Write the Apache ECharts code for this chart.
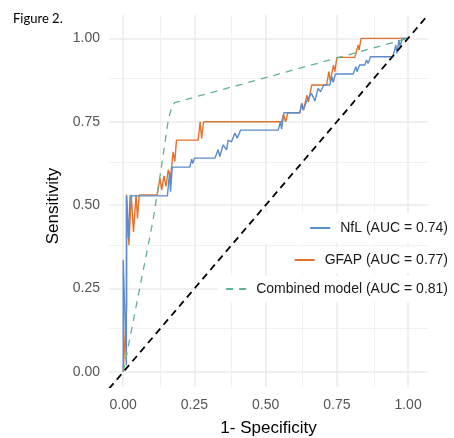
<!DOCTYPE html>
<html><head><meta charset="utf-8">
<script src="https://cdn.jsdelivr.net/npm/echarts@6/dist/echarts.min.js"></script>
<style>html,body{margin:0;padding:0;background:#fff}#c{width:454px;height:438px}</style>
</head><body><div id="c"></div>
<script>
// ROC curve data (1 - specificity, sensitivity)
const nflFpr = [0,0,0.011,0.011,0.018,0.024,0.155,0.163,0.166,0.172,0.234,0.240,0.244,0.250,0.322,0.333,0.339,0.351,0.363,0.368,0.380,0.392,0.400,0.412,0.544,0.552,0.556,0.564,0.620,0.626,0.632,0.643,0.649,0.661,0.673,0.684,0.693,0.704,0.725,0.733,0.737,0.745,0.807,0.817,0.821,0.830,0.848,0.854,0.860,0.868,0.947,0.957,0.961,0.968,0.972,0.980,1.0];
const nflTpr = [0,0.336,0.02,0.528,0.40,0.528,0.528,0.60,0.54,0.614,0.614,0.638,0.625,0.641,0.641,0.666,0.646,0.681,0.666,0.695,0.690,0.716,0.701,0.725,0.725,0.750,0.728,0.777,0.777,0.805,0.785,0.810,0.805,0.835,0.812,0.850,0.840,0.860,0.860,0.885,0.868,0.893,0.893,0.915,0.900,0.920,0.920,0.935,0.925,0.945,0.945,0.980,0.955,0.995,0.975,1.0,1.0];
const gfapFpr = [0,0.006,0.012,0.012,0.020,0.028,0.036,0.045,0.050,0.056,0.119,0.129,0.135,0.143,0.150,0.158,0.166,0.175,0.181,0.187,0.263,0.270,0.275,0.282,0.556,0.563,0.570,0.578,0.620,0.628,0.633,0.645,0.650,0.662,0.714,0.722,0.727,0.738,0.743,0.750,0.813,0.825,0.828,0.835,1.0];
const gfapTpr = [0,0.10,0.196,0.531,0.38,0.531,0.42,0.531,0.46,0.531,0.531,0.581,0.546,0.588,0.556,0.606,0.581,0.660,0.631,0.695,0.695,0.750,0.700,0.750,0.750,0.772,0.750,0.777,0.777,0.805,0.785,0.830,0.810,0.860,0.860,0.900,0.870,0.920,0.900,0.943,0.943,0.980,0.965,1.0,1.0];
const combFpr = [0,0.105,0.135,0.158,0.170,0.180,1.0];
const combTpr = [0,0.456,0.620,0.755,0.793,0.807,1.0];

const seriesNames = ['NfL (AUC = 0.74)','GFAP (AUC = 0.77)','Combined model (AUC = 0.81)'];
const seriesColors = ['#5B8CCB','#E2722D','#5FB48F'];

const majorTicks = [0,0.25,0.5,0.75,1];
const minorTicks = [0.125,0.375,0.625,0.875];
const xRange = [-0.05,1.07];
const yRange = [-0.045,1.07];

const zip = (a,b) => a.map((v,i)=>[v,b[i]]);
const font = 'Liberation Sans, Arial, sans-serif';
const majorStyle = {color:'#EBEBEB', width:1.5, type:'solid'};
const minorStyle = {color:'#EFEFEF', width:0.9, type:'solid'};

const gridLines = [].concat(
  minorTicks.map(v=>({xAxis:v, lineStyle:minorStyle})),
  minorTicks.map(v=>({yAxis:v, lineStyle:minorStyle})),
  majorTicks.map(v=>({xAxis:v, lineStyle:majorStyle})),
  majorTicks.map(v=>({yAxis:v, lineStyle:majorStyle}))
);

const fmt = v => v.toFixed(2);

const chart = echarts.init(document.getElementById('c'), null, {renderer:'canvas'});
const legendBase = {
  orient:'horizontal', itemWidth:20, itemHeight:14, backgroundColor:'#fff', z:100,
  icon:'inherit', itemStyle:{opacity:0, borderWidth:0},
  textStyle:{fontFamily:font, fontSize:14, color:'#1a1a1a', padding:[0,0,0,5]},
  selectedMode:false
};
chart.setOption({
  animation:false,
  backgroundColor:'#fff',
  title:{text:'Figure 2.', left:8, top:7, textStyle:{fontFamily:'Lato, Carlito, sans-serif', fontSize:13, fontWeight:'normal', color:'#000'}},
  grid:{left:109, right:26, top:15, bottom:51, containLabel:false, outerBoundsMode:'none'},
  xAxis:{type:'value', min:xRange[0], max:xRange[1],
    name:'1- Specificity', nameLocation:'middle', nameGap:33,
    nameTextStyle:{fontFamily:font, fontSize:17, color:'#000'},
    axisLine:{show:false}, axisTick:{show:false}, splitLine:{show:false},
    axisLabel:{customValues:majorTicks, formatter:fmt, fontFamily:font, fontSize:14, color:'#555', margin:11}},
  yAxis:{type:'value', min:yRange[0], max:yRange[1],
    name:'Sensitivity', nameLocation:'middle', nameGap:36, nameRotate:90,
    nameTextStyle:{fontFamily:font, fontSize:17, color:'#000', padding:[0,10,0,0]},
    axisLine:{show:false}, axisTick:{show:false}, splitLine:{show:false},
    axisLabel:{customValues:majorTicks, formatter:fmt, fontFamily:font, fontSize:14, color:'#555', margin:9}},
  legend:[
    Object.assign({}, legendBase, {data:[seriesNames[0]], right:2, top:213, padding:[8,4,8,48]}),
    Object.assign({}, legendBase, {data:[seriesNames[1]], right:2, top:247, padding:[6,4,6,4]}),
    Object.assign({}, legendBase, {data:[seriesNames[2]], right:2, top:276, padding:[6,4,6,7]})
  ],
  series:[
    {type:'line', name:'grid', data:[], z:0, silent:true,
      markLine:{z:0, silent:true, symbol:['none','none'], label:{show:false}, animation:false, data:gridLines}},
    {type:'line', name:seriesNames[1], data:zip(gfapFpr,gfapTpr), showSymbol:false, symbol:'none', z:3,
      lineStyle:{color:seriesColors[1], width:1.4}, itemStyle:{color:seriesColors[1]}},
    {type:'line', name:seriesNames[0], data:zip(nflFpr,nflTpr), showSymbol:false, symbol:'none', z:4,
      lineStyle:{color:seriesColors[0], width:1.4}, itemStyle:{color:seriesColors[0]}},
    {type:'line', name:seriesNames[2], data:zip(combFpr,combTpr), showSymbol:false, symbol:'none', z:5,
      lineStyle:{color:seriesColors[2], width:1.3, type:[7,6]}, itemStyle:{color:seriesColors[2]}},
    {type:'line', name:'diag', data:[[xRange[0],xRange[0]],[xRange[1],xRange[1]]], showSymbol:false, symbol:'none', z:6, clip:true,
      lineStyle:{color:'#000', width:1.8, type:[7,5]}}
  ]
});
</script></body></html>
